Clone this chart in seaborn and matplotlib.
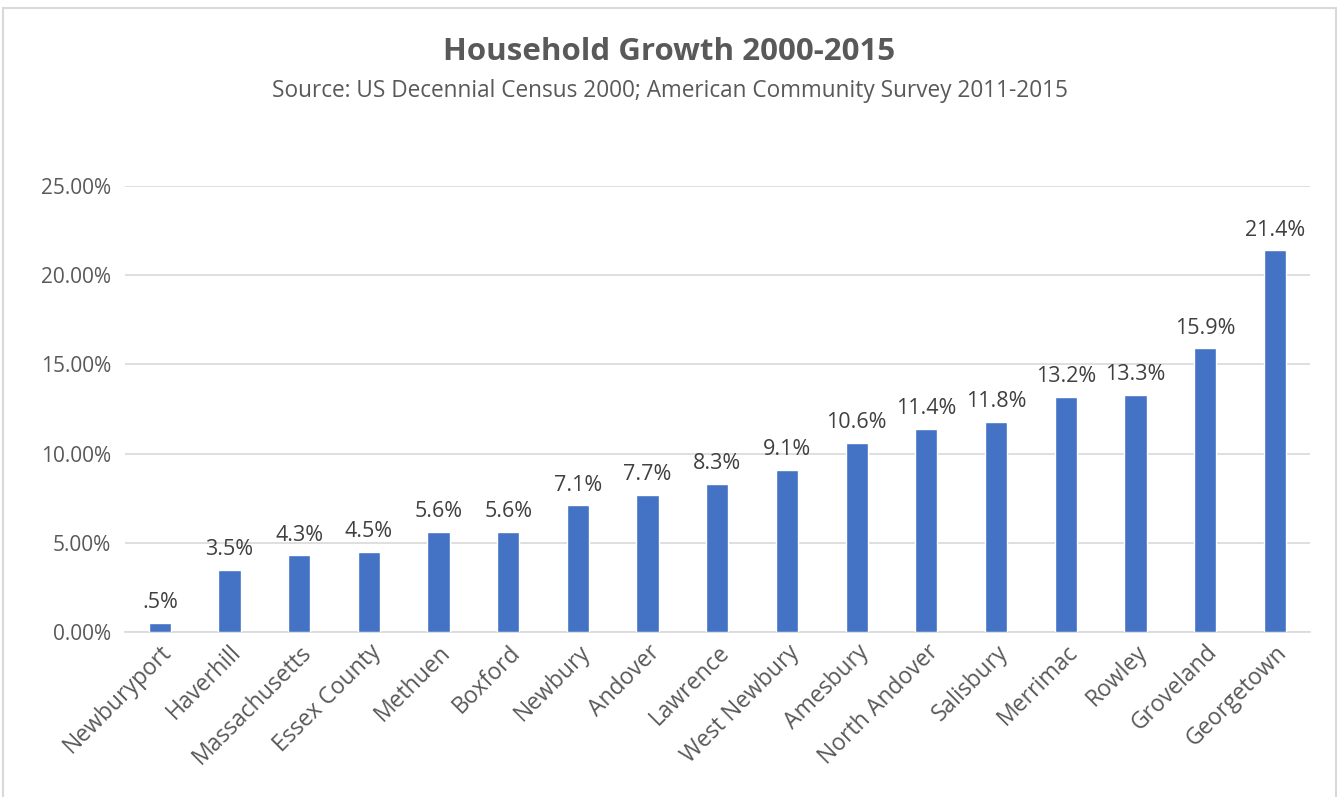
import matplotlib
matplotlib.use('Agg')
import matplotlib.pyplot as plt
import seaborn as sns
import pandas as pd
from matplotlib.patches import Rectangle
from matplotlib.ticker import FuncFormatter

# chart data
towns = ["Newburyport", "Haverhill", "Massachusetts", "Essex County", "Methuen",
         "Boxford", "Newbury", "Andover", "Lawrence", "West Newbury", "Amesbury",
         "North Andover", "Salisbury", "Merrimac", "Rowley", "Groveland", "Georgetown"]
growth = [0.5, 3.5, 4.3, 4.5, 5.6, 5.6, 7.1, 7.7, 8.3, 9.1, 10.6,
          11.4, 11.8, 13.2, 13.3, 15.9, 21.4]
value_labels = [".5%", "3.5%", "4.3%", "4.5%", "5.6%", "5.6%", "7.1%", "7.7%", "8.3%",
                "9.1%", "10.6%", "11.4%", "11.8%", "13.2%", "13.3%", "15.9%", "21.4%"]
y_ticks = [0, 5, 10, 15, 20, 25]

df = pd.DataFrame({"Town": towns, "Growth": growth})

sns.set_theme(style="white")
plt.rcParams['font.family'] = ['Open Sans', 'DejaVu Sans']
text_col = "#595959"

fig = plt.figure(figsize=(13.39, 7.97), dpi=100)
ax = fig.add_axes([0.0934, 0.207, 0.8846, 0.5596])

sns.barplot(data=df, x="Town", y="Growth", color="#4472C4", width=0.32,
            saturation=1, ax=ax, zorder=3)

for i, (v, lab) in enumerate(zip(growth, value_labels)):
    ax.annotate(lab, (i, v), xytext=(0, 7), textcoords="offset points",
                ha="center", va="bottom", fontsize=15.5, color="#404040")

ax.set_xlim(-0.5, len(towns) - 0.5)
ax.set_ylim(0, 25)
ax.set_yticks(y_ticks)
ax.yaxis.set_major_formatter(FuncFormatter(lambda v, p: f"{v:.2f}%"))
ax.grid(axis="y", color="#D9D9D9", linewidth=1.2, zorder=0)
ax.set_xlabel("")
ax.set_ylabel("")
for s in ["top", "right", "left"]:
    ax.spines[s].set_visible(False)
ax.spines["bottom"].set_color("#D9D9D9")
ax.spines["bottom"].set_linewidth(1.2)
ax.tick_params(axis="y", labelsize=15, labelcolor=text_col, length=0, pad=10)
ax.tick_params(axis="x", labelsize=16.5, labelcolor=text_col, length=0, pad=6)
plt.setp(ax.get_xticklabels(), rotation=45, ha="right", rotation_mode="anchor")

fig.text(0.5, 0.935, "Household Growth 2000-2015", ha="center", va="center",
         fontsize=22.5, fontweight="bold", color=text_col)
fig.text(0.5, 0.886, "Source: US Decennial Census 2000; American Community Survey 2011-2015",
         ha="center", va="center", fontsize=16.3, color=text_col)

# light frame around the chart area
fig.patches.append(Rectangle((0.002, -0.01), 0.996, 1.0, transform=fig.transFigure,
                             fill=False, edgecolor="#D9D9D9", linewidth=1.5))

fig.savefig("out.png", dpi=100)
plt.close()
